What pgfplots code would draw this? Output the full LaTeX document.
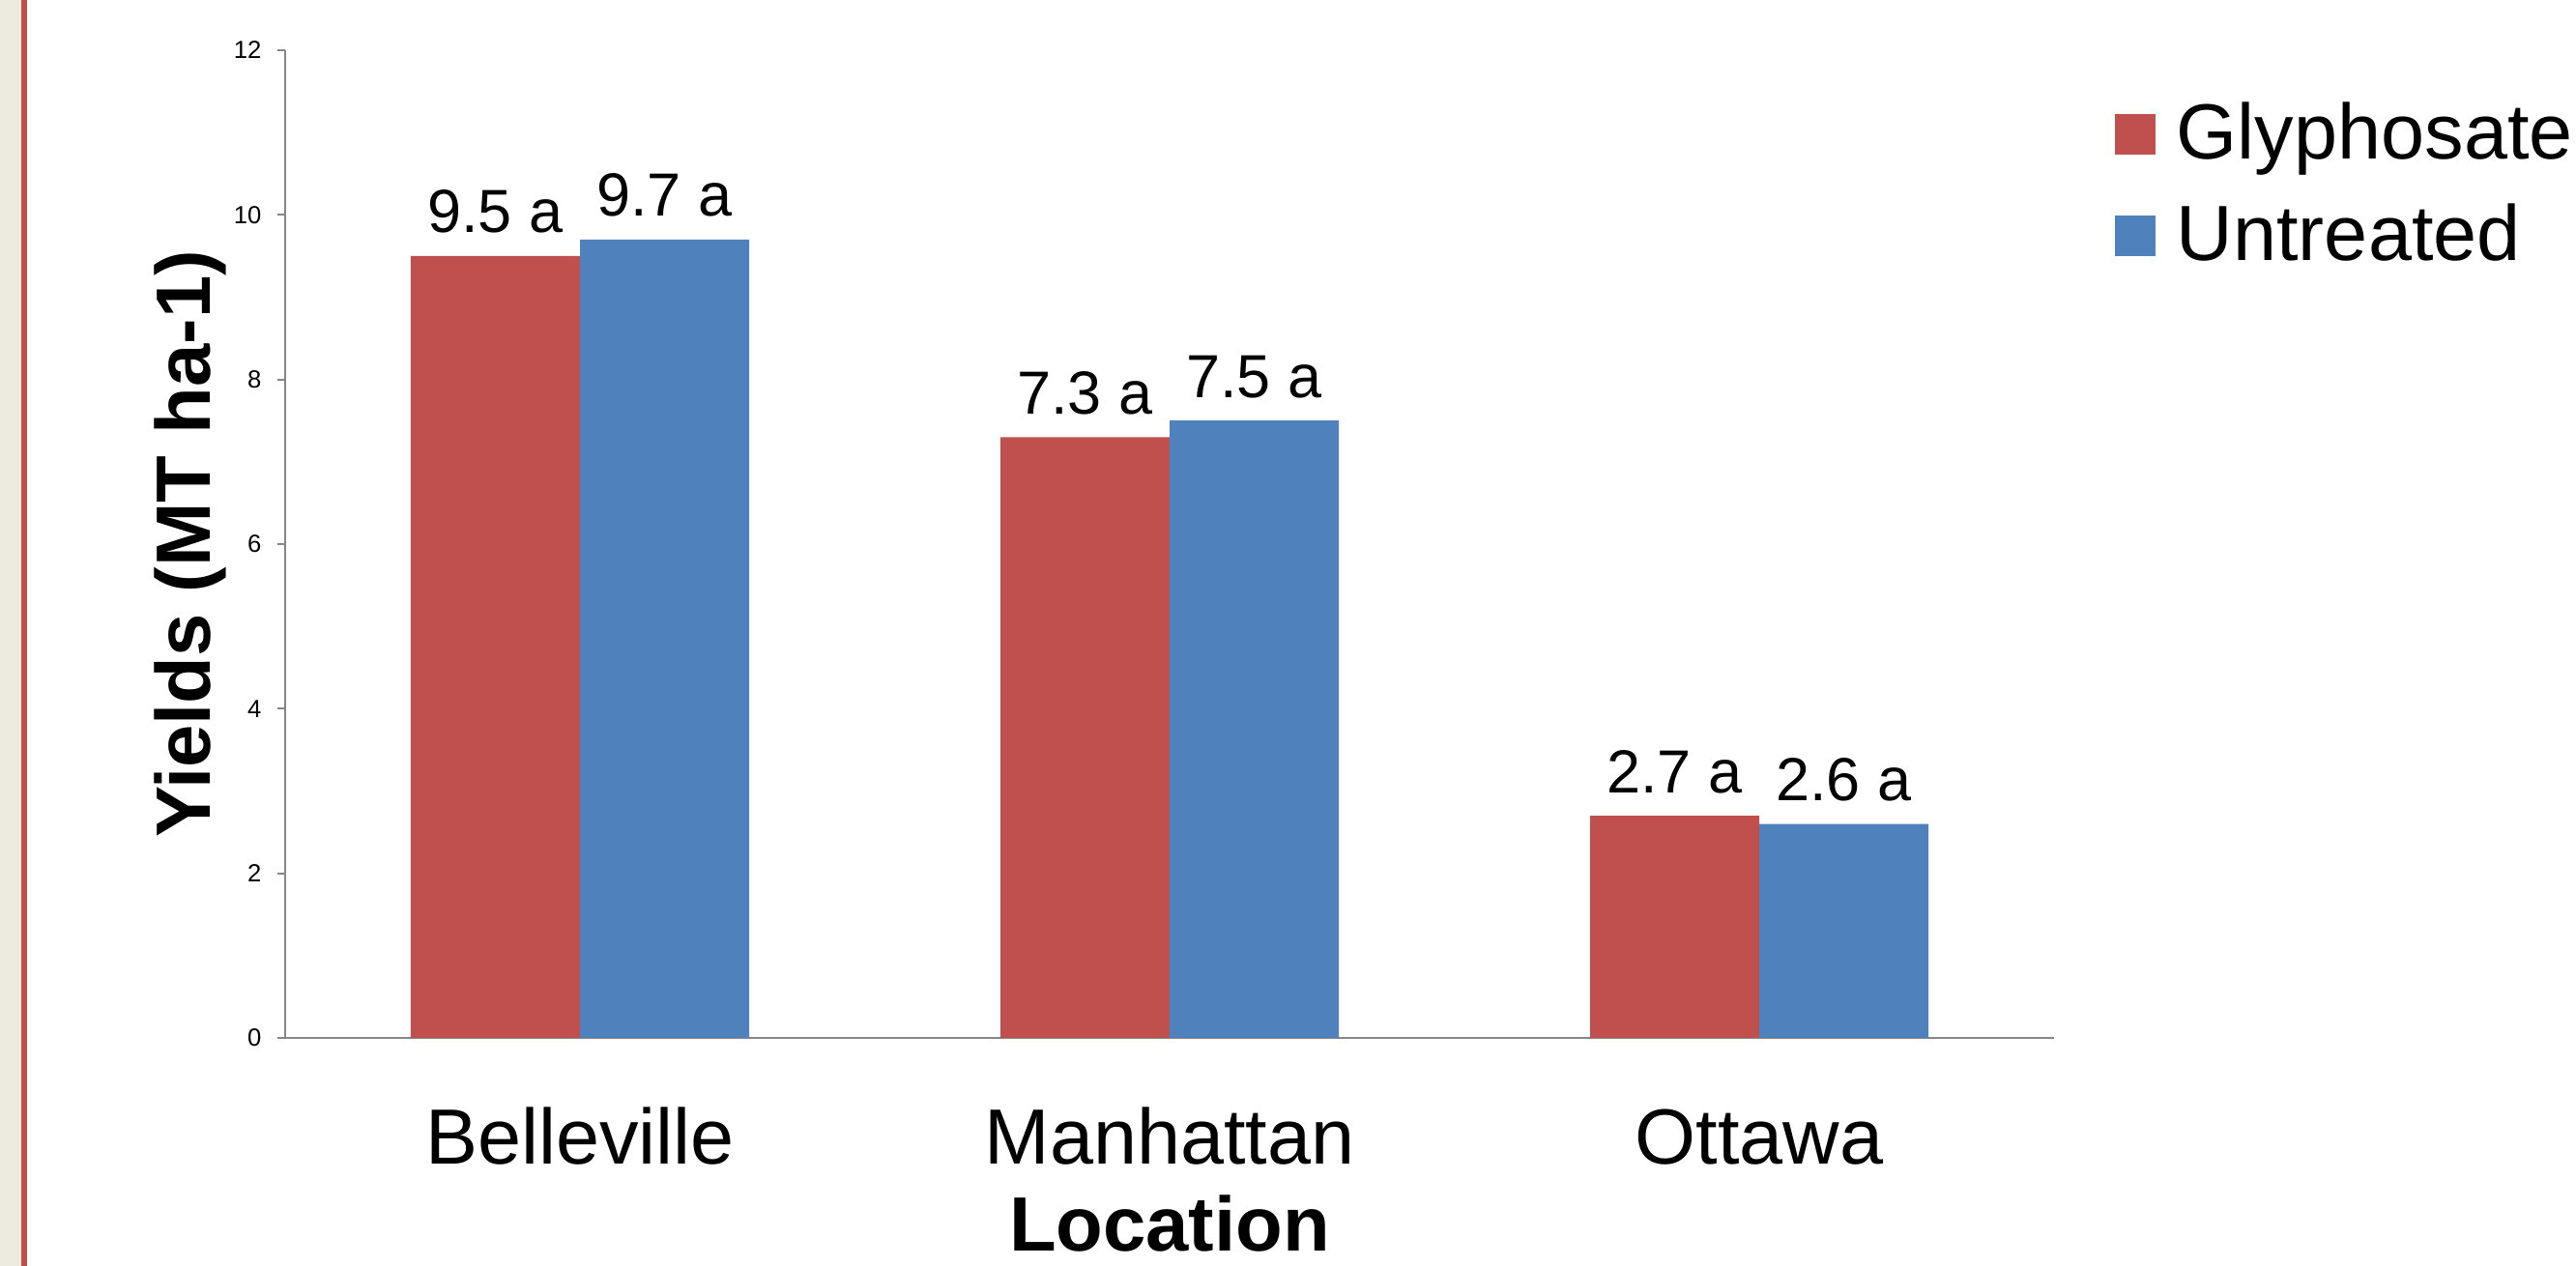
\documentclass[border=0pt]{standalone}
\usepackage{fontspec}
\setmainfont{Liberation Sans}
\usepackage{pgfplots}
\pgfplotsset{compat=1.18}
\definecolor{barred}{HTML}{C0504D}
\definecolor{barblue}{HTML}{4F81BD}
\definecolor{axgray}{HTML}{868686}
\definecolor{beige}{HTML}{EDEAE0}
\begin{document}
\begin{tikzpicture}
\path[use as bounding box] (0,0) rectangle (799.5pt,393pt);
\fill[beige] (0,0) rectangle (6.6pt,393pt);
\fill[barred] (6.6pt,0) rectangle (8.4pt,393pt);
\begin{axis}[
  at={(88.5pt,70.8pt)}, anchor=south west,
  scale only axis, width=549pt, height=306.6pt,
  ybar=0pt, bar width=52.5pt,
  xmin=-0.5, xmax=2.5, ymin=0, ymax=12,
  enlargelimits=false,
  axis x line*=bottom, axis y line*=left,
  axis line style={-, draw=axgray, line width=0.6pt},
  xtick={0,1,2}, xticklabels={Belleville,Manhattan,Ottawa},
  x tick style={draw=none},
  ytick={0,2,4,6,8,10,12},
  y tick style={draw=axgray, line width=0.6pt},
  tick align=outside, major tick length=2.4pt,
  /pgf/number format/assume math mode=true,
  yticklabel style={font=\fontsize{7.7pt}{9pt}\selectfont, anchor=east, inner sep=0pt, xshift=-4.8pt},
  xticklabel style={font=\fontsize{24.3pt}{29pt}\selectfont, anchor=base, inner sep=0pt, yshift=-36.9pt},
  every axis x label/.style={at={(axis description cs:0.5,-0.2162)}, anchor=base, font=\bfseries\fontsize{23.9pt}{29pt}\selectfont},
  every axis y label/.style={at={(axis description cs:-0.04208,0.5)}, rotate=90, anchor=base, font=\bfseries\fontsize{23.9pt}{29pt}\selectfont},
  xlabel={Location},
  ylabel={Yields (MT ha-1)},
  point meta=explicit symbolic,
  nodes near coords,
  every node near coord/.append style={anchor=base, yshift=7.2pt, font=\fontsize{18.9pt}{22pt}\selectfont, text=black},
  legend image code/.code={\fill[#1] (0pt,-5.2pt) rectangle (12.6pt,7.4pt);},
  legend cell align=left,
  legend style={at={(axis description cs:1.0344,0.9462)}, anchor=north west, draw=none, fill=none, inner sep=0pt, outer sep=0pt, row sep=10.1pt, column sep=6.6pt, font=\fontsize{24.3pt}{29pt}\selectfont, nodes={inner sep=0pt, text height=17.4pt, text depth=4pt}},
]
\addplot[fill=barred, draw=none] coordinates {(0,9.5) [9.5 a] (1,7.3) [7.3 a] (2,2.7) [2.7 a]};
\addplot[fill=barblue, draw=none] coordinates {(0,9.7) [9.7 a] (1,7.5) [7.5 a] (2,2.6) [2.6 a]};
\legend{Glyphosate,Untreated}
\end{axis}
\end{tikzpicture}
\end{document}
